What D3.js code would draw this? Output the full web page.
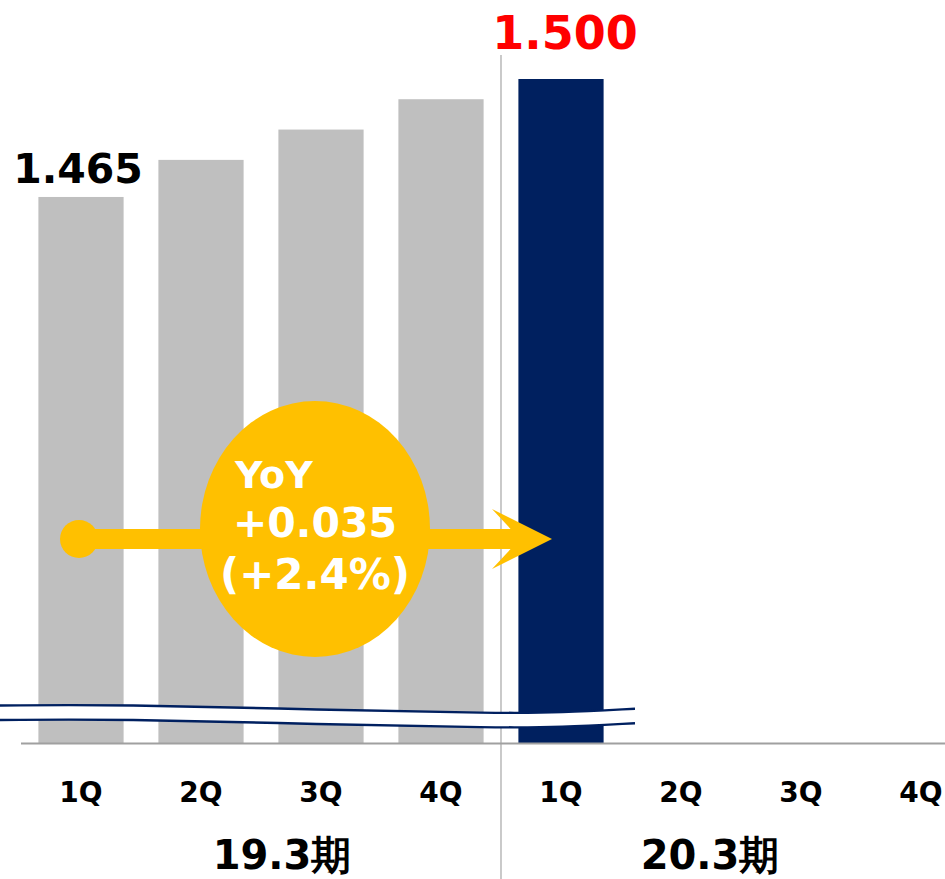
<!DOCTYPE html>
<html>
<head>
<meta charset="utf-8">
<script src="https://cdn.jsdelivr.net/npm/d3@7"></script>
<style>
  body { margin: 0; background: #fff; }
  text { font-family: "DejaVu Sans", Verdana, sans-serif; font-weight: bold; }
</style>
</head>
<body>
<div id="chart"></div>
<script>
// quarters on the x axis, two fiscal periods
var quarters = ["1Q", "2Q", "3Q", "4Q"];
var periods = ["19.3期", "20.3期"];
// values per quarter (20.3期 only 1Q so far)
var values19 = [1.465, 1.476, 1.485, 1.494];
var values20 = [1.500];
var yoyLines = ["YoY", "+0.035", "(+2.4%)"];

var W = 945, H = 879;
var svg = d3.select("#chart").append("svg")
  .attr("width", W).attr("height", H);

// flatten into rows for the band scale
var rows = [];
periods.forEach(function (p, pi) {
  quarters.forEach(function (q, qi) {
    var v = pi === 0 ? values19[qi] : values20[qi];
    rows.push({ key: p + q, period: p, q: q, value: v });
  });
});

var x = d3.scaleBand()
  .domain(rows.map(function (d) { return d.key; }))
  .range([21, 981])
  .paddingInner(0.29)
  .paddingOuter(0.145);

// axis is broken, so the value scale does not start at zero
var baseY = 743;
var y = d3.scaleLinear().domain([1.303, 1.5]).range([baseY, 79]);

// bars
svg.selectAll("rect.bar")
  .data(rows.filter(function (d) { return d.value != null; }))
  .enter().append("rect")
  .attr("class", "bar")
  .attr("x", function (d) { return x(d.key); })
  .attr("y", function (d) { return y(d.value); })
  .attr("width", x.bandwidth())
  .attr("height", function (d) { return baseY - y(d.value); })
  .attr("fill", function (d) { return d.period === periods[1] ? "#00205F" : "#BFBFBF"; });

// period divider
var divX = x(periods[1] + quarters[0]) - (x.step() - x.bandwidth()) / 2;
svg.append("line")
  .attr("x1", divX).attr("x2", divX)
  .attr("y1", 55).attr("y2", H)
  .attr("stroke", "#A6A6A6").attr("stroke-width", 1.2);

// base line
svg.append("line")
  .attr("x1", 21).attr("x2", W)
  .attr("y1", baseY + 0.5).attr("y2", baseY + 0.5)
  .attr("stroke", "#A0A0A0").attr("stroke-width", 2);

// wavy axis break
var upper = [[0, 705.5], [120, 704.5], [320, 709.7], [500, 713.3], [560, 712.7], [635, 708.7]];
var gap = 14.5;
var curve = d3.line().curve(d3.curveBasis);
var lower = upper.map(function (p) { return [p[0], p[1] + gap]; });
svg.append("path")
  .attr("d", curve(upper) + "L" + curve(lower.slice().reverse()).slice(1) + "Z")
  .attr("fill", "#fff");
[upper, lower].forEach(function (pts) {
  svg.append("path")
    .attr("d", curve(pts))
    .attr("fill", "none")
    .attr("stroke", "#002060")
    .attr("stroke-width", 2.4);
});

// value labels
svg.append("text")
  .attr("x", x(rows[0].key) + x.bandwidth() / 2 - 3)
  .attr("y", 183)
  .attr("text-anchor", "middle")
  .attr("font-size", 41)
  .attr("fill", "#000")
  .text(d3.format(".3f")(values19[0]));

svg.append("text")
  .attr("x", x(rows[4].key) + x.bandwidth() / 2 + 4)
  .attr("y", 49)
  .attr("text-anchor", "middle")
  .attr("font-size", 46)
  .attr("fill", "#FF0000")
  .text(d3.format(".3f")(values20[0]));

// quarter tick labels
svg.selectAll("text.tick")
  .data(rows)
  .enter().append("text")
  .attr("class", "tick")
  .attr("x", function (d) { return x(d.key) + x.bandwidth() / 2; })
  .attr("y", 802)
  .attr("text-anchor", "middle")
  .attr("font-size", 28)
  .attr("fill", "#000")
  .text(function (d) { return d.q; });

// period labels
var periodX = [282, 710];
svg.selectAll("text.period")
  .data(periods)
  .enter().append("text")
  .attr("class", "period")
  .attr("x", function (d, i) { return periodX[i]; })
  .attr("y", 869)
  .attr("text-anchor", "middle")
  .attr("font-size", 40)
  .attr("fill", "#000")
  .text(function (d) { return d; });

// YoY arrow
var gold = "#FFC000";
var ay = 539;
var x0 = x(rows[0].key) + x.bandwidth() / 2 - 2;
svg.append("circle").attr("cx", x0).attr("cy", ay).attr("r", 19).attr("fill", gold);
svg.append("rect").attr("x", x0).attr("y", ay - 10).attr("width", 522 - x0).attr("height", 20).attr("fill", gold);
svg.append("path")
  .attr("d", "M492," + (ay - 30) + "L552," + ay + "L492," + (ay + 30) + "L520," + ay + "Z")
  .attr("fill", gold);

svg.append("ellipse")
  .attr("cx", 315).attr("cy", 529)
  .attr("rx", 115).attr("ry", 128)
  .attr("fill", gold);

svg.append("text")
  .attr("x", 235).attr("y", 488)
  .attr("font-size", 38).attr("fill", "#fff")
  .text(yoyLines[0]);
svg.append("text")
  .attr("x", 315).attr("y", 537)
  .attr("text-anchor", "middle")
  .attr("font-size", 41).attr("fill", "#fff")
  .text(yoyLines[1]);
svg.append("text")
  .attr("x", 315).attr("y", 589)
  .attr("text-anchor", "middle")
  .attr("font-size", 42).attr("fill", "#fff")
  .text(yoyLines[2]);
</script>
</body>
</html>
